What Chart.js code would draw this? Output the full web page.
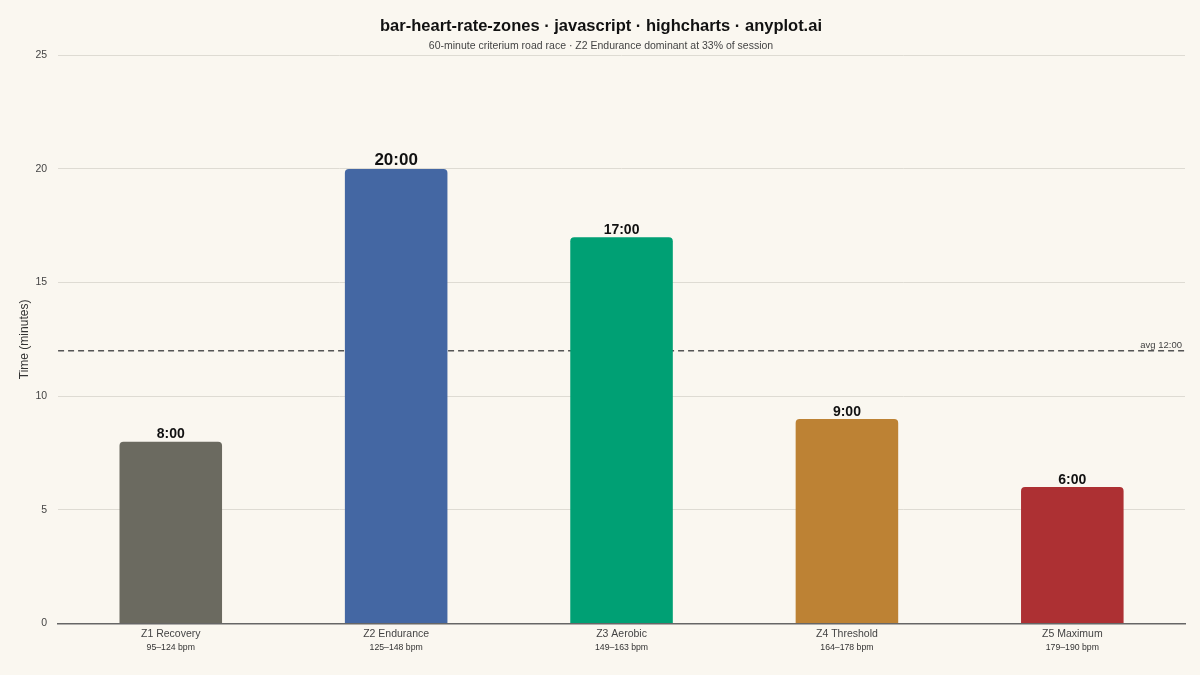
<!DOCTYPE html>
<html>
<head>
<meta charset="utf-8">
<script src="https://cdn.jsdelivr.net/npm/chart.js@4"></script>
<style>
  html, body { margin: 0; padding: 0; background: #faf7f0; }
  #wrap { width: 1200px; height: 675px; }
</style>
</head>
<body>
<div id="wrap"><canvas id="zones"></canvas></div>
<script>
const zones = ['Z1 Recovery', 'Z2 Endurance', 'Z3 Aerobic', 'Z4 Threshold', 'Z5 Maximum'];
const bpmRanges = ['95–124 bpm', '125–148 bpm', '149–163 bpm', '164–178 bpm', '179–190 bpm'];
const minutes = [8, 20, 17, 9, 6];
const zoneColors = ['#6b6a60', '#4467a3', '#00a074', '#bd8234', '#ad3033'];
const avgMinutes = 12;
const yTicks = [0, 5, 10, 15, 20, 25];

const FONT = '"Liberation Sans", Arial, sans-serif';

function mmss(m) {
  const whole = Math.floor(m);
  const sec = Math.round((m - whole) * 60);
  return whole + ':' + String(sec).padStart(2, '0');
}

// dashed average line, drawn under the bars
const avgLine = {
  id: 'avgLine',
  beforeDatasetsDraw(chart) {
    const { ctx, chartArea, scales } = chart;
    const y = scales.y.getPixelForValue(avgMinutes);
    ctx.save();
    ctx.strokeStyle = '#555';
    ctx.lineWidth = 1.5;
    ctx.setLineDash([6, 4]);
    ctx.beginPath();
    ctx.moveTo(chartArea.left, y);
    ctx.lineTo(chartArea.right, y);
    ctx.stroke();
    ctx.setLineDash([]);
    ctx.fillStyle = '#444';
    ctx.font = '9.5px ' + FONT;
    ctx.textAlign = 'right';
    ctx.textBaseline = 'bottom';
    ctx.fillText('avg ' + mmss(avgMinutes), chartArea.right - 3, y - 1);
    ctx.restore();
  }
};

// value labels on top of bars + bpm range under zone names
const barText = {
  id: 'barText',
  afterDraw(chart) {
    const { ctx, scales } = chart;
    const meta = chart.getDatasetMeta(0);
    const maxVal = Math.max(...minutes);
    ctx.save();
    ctx.textAlign = 'center';
    meta.data.forEach((bar, i) => {
      const big = minutes[i] === maxVal;
      ctx.font = 'bold ' + (big ? 17 : 14) + 'px ' + FONT;
      ctx.fillStyle = '#111';
      ctx.textBaseline = 'bottom';
      ctx.fillText(mmss(minutes[i]), bar.x, bar.y);

      ctx.font = '8.7px ' + FONT;
      ctx.fillStyle = '#333';
      ctx.textBaseline = 'middle';
      ctx.fillText(bpmRanges[i], scales.x.getPixelForValue(i), scales.x.bottom + 4);
    });
    ctx.restore();
  }
};

new Chart(document.getElementById('zones'), {
  type: 'bar',
  data: {
    labels: zones,
    datasets: [{
      data: minutes,
      backgroundColor: zoneColors,
      borderRadius: { topLeft: 4, topRight: 4 },
      borderSkipped: 'start',
      categoryPercentage: 1,
      barPercentage: 0.455
    }]
  },
  options: {
    responsive: true,
    maintainAspectRatio: false,
    animation: false,
    layout: { padding: { left: 17, right: 15, top: 0, bottom: 31 } },
    plugins: {
      legend: { display: false },
      tooltip: { enabled: false },
      title: {
        display: true,
        text: 'bar-heart-rate-zones · javascript · highcharts · anyplot.ai',
        color: '#111',
        font: { family: FONT, size: 16.5, weight: 'bold' },
        padding: { top: 17, bottom: 3 }
      },
      subtitle: {
        display: true,
        text: '60-minute criterium road race · Z2 Endurance dominant at 33% of session',
        color: '#444',
        font: { family: FONT, size: 10.5 },
        padding: { bottom: 3 }
      }
    },
    scales: {
      x: {
        grid: { display: false, drawTicks: false },
        border: { color: '#666', width: 1.5 },
        ticks: { color: '#444', font: { family: FONT, size: 10.5 }, padding: 4 }
      },
      y: {
        min: 0,
        max: 25,
        afterBuildTicks(scale) { scale.ticks = yTicks.map(v => ({ value: v })); },
        border: { display: false },
        grid: { color: '#dedbd3', drawTicks: false },
        ticks: { color: '#444', font: { family: FONT, size: 10.5 }, padding: 11 },
        title: {
          display: true,
          text: 'Time (minutes)',
          color: '#333',
          font: { family: FONT, size: 12 },
          padding: { top: 0, bottom: -7 }
        }
      }
    }
  },
  plugins: [avgLine, barText]
});
</script>
</body>
</html>
